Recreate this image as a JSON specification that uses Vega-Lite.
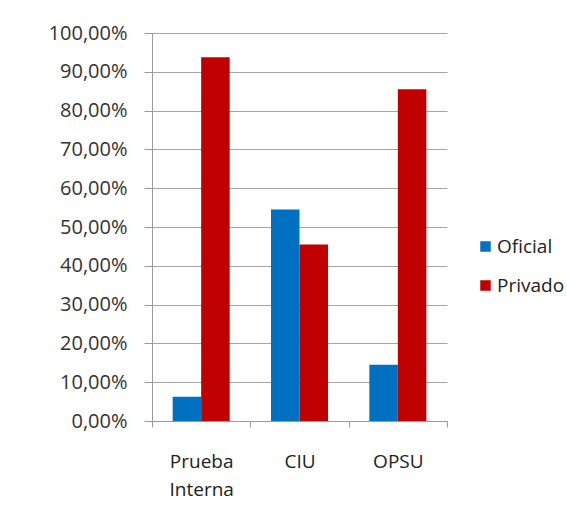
{
  "$schema": "https://vega.github.io/schema/vega-lite/v6.json",
  "width": 295,
  "height": 388,
  "padding": {"left": 48, "top": 23, "right": 0, "bottom": 5},
  "autosize": {"type": "pad"},
  "background": "white",
  "data": {"values": [
    {"cat": "Prueba Interna", "tipo": "Oficial", "v": 0.0625},
    {"cat": "Prueba Interna", "tipo": "Privado", "v": 0.9375},
    {"cat": "CIU", "tipo": "Oficial", "v": 0.545},
    {"cat": "CIU", "tipo": "Privado", "v": 0.455},
    {"cat": "OPSU", "tipo": "Oficial", "v": 0.145},
    {"cat": "OPSU", "tipo": "Privado", "v": 0.855}
  ]},
  "mark": {"type": "bar"},
  "encoding": {
    "x": {"field": "cat", "type": "nominal", "sort": ["Prueba Interna", "CIU", "OPSU"],
      "scale": {"paddingInner": 0, "paddingOuter": 0},
      "axis": {"title": null, "labelAngle": 0, "labelExpr": "split(datum.label, ' ')", "tickBand": "extent",
        "tickSize": 6, "labelPadding": 25, "labelFontSize": 19, "labelLineHeight": 28, "labelColor": "#222222",
        "domainColor": "#9a9a9a", "tickColor": "#9a9a9a", "labelFont": "Open Sans"}},
    "xOffset": {"field": "tipo", "type": "nominal", "scale": {"paddingInner": 0, "paddingOuter": 0.725}},
    "y": {"field": "v", "type": "quantitative", "scale": {"domain": [0, 1]},
      "axis": {"title": null, "values": [0, 0.1, 0.2, 0.3, 0.4, 0.5, 0.6, 0.7, 0.8, 0.9, 1],
        "labelExpr": "replace(format(datum.value * 100, '.2f'), '.', ',') + '%'",
        "tickSize": 8, "labelPadding": 17, "labelFontSize": 20, "labelColor": "#333333", "labelFont": "Open Sans",
        "domain": true, "domainColor": "#9a9a9a", "tickColor": "#9a9a9a", "gridColor": "#a6a6a6", "gridWidth": 1.2}},
    "color": {"field": "tipo", "type": "nominal",
      "scale": {"domain": ["Oficial", "Privado"], "range": ["#0070C0", "#C00000"]},
      "legend": {"title": null, "orient": "none", "legendX": 324, "legendY": 204, "symbolType": "square",
        "symbolSize": 110, "symbolStrokeWidth": 0, "labelFontSize": 19, "labelFont": "Open Sans", "labelColor": "#222222", "rowPadding": 19, "labelOffset": 2, "labelLimit": 300}}
  },
  "config": {"view": {"stroke": null}}
}
